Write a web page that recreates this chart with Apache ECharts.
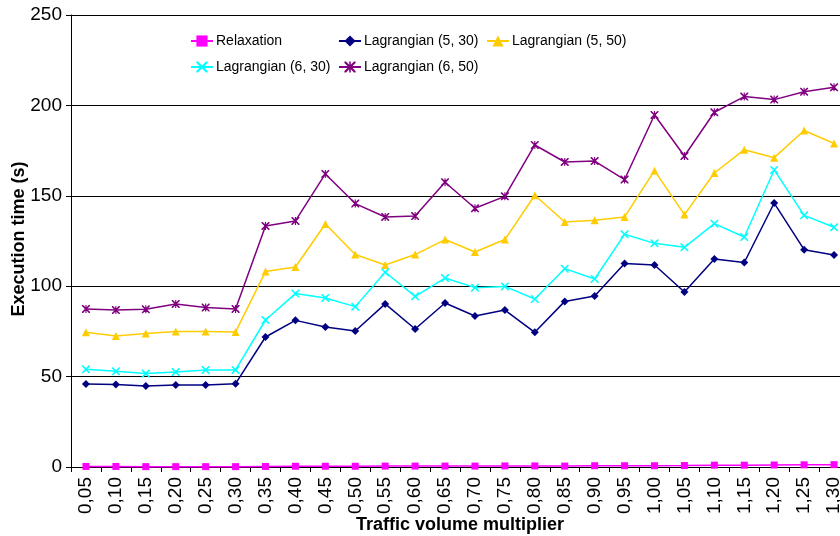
<!DOCTYPE html>
<html>
<head>
<meta charset="utf-8">
<script src="https://cdn.jsdelivr.net/npm/echarts@6/dist/echarts.min.js"></script>
<style>
  html, body { margin: 0; padding: 0; background: #fff; }
  #chart { width: 840px; height: 536px; }
</style>
</head>
<body>
<div id="chart"></div>
<script>
// Traffic volume multipliers (category axis)
const categories = ['0,05','0,10','0,15','0,20','0,25','0,30','0,35','0,40','0,45','0,50',
  '0,55','0,60','0,65','0,70','0,75','0,80','0,85','0,90','0,95','1,00',
  '1,05','1,10','1,15','1,20','1,25','1,30'];

// Execution times in seconds
const relaxation = [0.3,0.3,0.2,0.2,0.2,0.2,0.3,0.4,0.4,0.4,0.5,0.5,0.5,0.5,0.6,0.6,0.5,0.7,0.7,0.7,0.8,1.0,1.0,1.1,1.2,1.3];
const lag530 = [45.9,45.6,44.8,45.4,45.4,46.1,71.9,81.1,77.4,75.2,90.2,76.3,90.7,83.5,86.8,74.5,91.6,94.6,112.5,111.7,96.8,115.0,113.1,146.0,120.2,117.3];
const lag550 = [74.5,72.5,73.9,74.9,74.9,74.7,108.1,110.6,134.4,117.5,111.7,117.5,125.8,118.9,125.8,150.3,135.5,136.5,138.3,163.9,139.6,162.6,175.5,171.1,186.1,178.9];
const lag630 = [54.0,52.9,51.7,52.5,53.7,53.7,81.3,95.9,93.5,88.7,107.7,94.4,104.5,99.2,99.9,92.9,109.7,104.0,128.7,123.7,121.5,134.6,127.2,164.3,139.2,132.6];
const lag650 = [87.4,86.8,87.2,90.2,88.2,87.4,133.3,136.1,162.1,145.7,138.3,138.8,157.5,143.1,149.7,178.1,168.7,169.2,159.0,194.7,172.0,196.2,204.9,203.2,207.6,210.0];

const yTicks = { min: 0, max: 250, step: 50 };

const FONT = '"Liberation Sans", Arial, sans-serif';

// Marker shapes: a cross and an asterisk
const crossPath = 'path://M0,0 L1.4,0 L5,3.6 L8.6,0 L10,0 L10,1.4 L6.4,5 L10,8.6 L10,10 L8.6,10 L5,6.4 L1.4,10 L0,10 L0,8.6 L3.6,5 L0,1.4 Z';
const starPath = 'path://M0,0 L1.4,0 L5,3.6 L8.6,0 L10,0 L10,1.4 L6.4,5 L10,8.6 L10,10 L8.6,10 L5,6.4 L1.4,10 L0,10 L0,8.6 L3.6,5 L0,1.4 Z M4.3,0 L5.7,0 L5.7,10 L4.3,10 Z';

const seriesDefs = [
  { name: 'Relaxation',         data: relaxation, color: '#FF00FF', symbol: 'rect',     size: 7 },
  { name: 'Lagrangian (5, 30)', data: lag530,     color: '#000080', symbol: 'diamond',  size: 8 },
  { name: 'Lagrangian (5, 50)', data: lag550,     color: '#FFCC00', symbol: 'triangle', size: 8 },
  { name: 'Lagrangian (6, 30)', data: lag630,     color: '#00FFFF', symbol: crossPath,  size: 8 },
  { name: 'Lagrangian (6, 50)', data: lag650,     color: '#800080', symbol: starPath,   size: 8 }
];

const legendPos = [
  { left: 190, top: 34 },
  { left: 338, top: 34 },
  { left: 486, top: 34 },
  { left: 190, top: 60 },
  { left: 338, top: 60 }
];

const chart = echarts.init(document.getElementById('chart'), null, { renderer: 'canvas' });

chart.setOption({
  animation: false,
  backgroundColor: '#ffffff',
  textStyle: { fontFamily: FONT },
  grid: { left: 71, right: -9, top: 15, bottom: 69, containLabel: false, outerBoundsMode: 'none' },
  legend: seriesDefs.map((s, i) => ({
    data: [s.name],
    left: legendPos[i].left,
    top: legendPos[i].top,
    padding: 0,
    orient: 'horizontal',
    itemWidth: 22,
    itemHeight: 14,
    itemGap: 0,
    selectedMode: false,
    textStyle: { fontFamily: FONT, fontSize: 14, color: '#000', padding: [0, 0, 0, -2] }
  })),
  xAxis: {
    type: 'category',
    data: categories,
    boundaryGap: true,
    axisLine: { lineStyle: { color: '#000', width: 1 } },
    axisTick: { show: true, interval: 0, length: 5, lineStyle: { color: '#000' } },
    axisLabel: { interval: 0, rotate: 90, margin: 10, color: '#000', fontFamily: FONT, fontSize: 19 },
    splitLine: { show: false }
  },
  yAxis: {
    type: 'value',
    min: yTicks.min,
    max: yTicks.max,
    interval: yTicks.step,
    axisLine: { show: true, lineStyle: { color: '#000', width: 1 } },
    axisTick: { show: true, length: 5, lineStyle: { color: '#000' } },
    axisLabel: { margin: 9, color: '#000', fontFamily: FONT, fontSize: 19 },
    splitLine: { show: true, lineStyle: { color: '#000', width: 1 } }
  },
  graphic: [
    {
      type: 'text',
      x: 460, y: 525,
      style: { text: 'Traffic volume multiplier', font: 'bold 18px ' + FONT, fill: '#000', align: 'center', verticalAlign: 'middle' }
    },
    {
      type: 'text',
      x: 19, y: 239,
      rotation: Math.PI / 2,
      style: { text: 'Execution time (s)', font: 'bold 18px ' + FONT, fill: '#000', align: 'center', verticalAlign: 'middle' }
    }
  ],
  series: seriesDefs.map(s => ({
    name: s.name,
    type: 'line',
    data: s.data,
    symbol: s.symbol,
    symbolSize: s.size,
    showSymbol: true,
    showAllSymbol: true,
    clip: false,
    color: s.color,
    lineStyle: { color: s.color, width: 1.5 },
    itemStyle: { color: s.color, borderWidth: 0 },
    emphasis: { disabled: true }
  }))
});
</script>
</body>
</html>
